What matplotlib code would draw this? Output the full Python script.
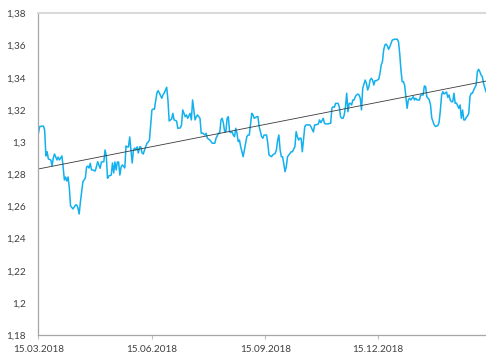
import numpy as np
import matplotlib
matplotlib.use("Agg")
import matplotlib.pyplot as plt
import matplotlib.dates as mdates
from matplotlib.ticker import FuncFormatter, MultipleLocator

# Daily exchange rate, days counted from 15.03.2018
days = [0, 1, 4, 5, 6, 7, 8, 10, 11, 12, 13, 15, 16, 17, 19, 20, 21, 22, 23, 24,
        25, 26, 28, 29, 30, 31, 32, 33, 34, 36, 37, 38, 39, 40, 41, 42, 43, 44, 46, 47,
        48, 50, 51, 53, 54, 55, 56, 57, 59, 60, 61, 62, 63, 64, 65, 66, 67, 68, 70, 71,
        72, 73, 74, 75, 76, 77, 78, 79, 80, 81, 82, 83, 84, 85, 86, 88, 89, 90, 92, 93,
        94, 96, 97, 98, 100, 101, 102, 104, 105,
        106, 108, 109, 110, 112, 113, 115, 116, 117, 119, 120, 121, 123, 124, 125, 127,
        128, 129, 131, 132, 133, 135, 136, 137, 139, 140, 141, 143, 144, 146, 147, 148,
        149, 150, 151, 152, 153, 154, 155, 156, 157, 158, 159, 160, 161, 162, 163, 164,
        165, 166, 167, 169, 170, 171, 173, 174, 175, 177, 178, 179, 181, 182, 183, 185,
        186, 187, 189, 190, 192, 193, 194, 195, 196, 197, 198, 200, 201, 202, 204, 205,
        206, 208, 209, 210, 211, 212, 213, 214, 216, 217, 220, 221, 223, 224, 225, 227,
        228,
        229, 231, 232, 233, 235, 236, 237, 238, 239, 240, 241, 243, 244, 245, 246, 247,
        248, 249, 250, 251, 252, 253, 254, 255, 256, 257, 258, 259, 260, 261, 262, 263,
        265, 266, 267, 268, 269, 270, 271, 272, 273, 274, 276, 277, 278, 279, 280, 281,
        282, 283, 284, 285, 286, 287, 289, 291, 292, 293, 294, 295, 296, 297, 298, 299,
        300, 301, 302, 304, 305, 306, 307, 308, 309, 310, 312, 313, 314, 315, 316, 317,
        318, 319, 321, 322, 324, 325, 326, 327, 328, 329, 331, 332, 333, 334, 335, 336,
        337, 338, 339, 341, 342, 343, 344, 345, 346, 347, 348, 349, 350, 351, 352, 353,
        355, 356, 357, 358, 359, 360, 361, 363]

rate = [1.3057, 1.3097, 1.3100, 1.3075, 1.2914, 1.2940, 1.2895, 1.2889, 1.2851, 1.2901,
        1.2926, 1.2889, 1.2907, 1.2889, 1.2914, 1.2845, 1.2764, 1.2783, 1.2758, 1.2783,
        1.2715, 1.2603, 1.2584, 1.2596, 1.2609, 1.2609, 1.2590, 1.2553, 1.2628, 1.2752,
        1.2764, 1.2777, 1.2845, 1.2851, 1.2839, 1.2868, 1.2827, 1.2827, 1.2820, 1.2847,
        1.2878, 1.2837, 1.2876, 1.2878, 1.2951, 1.2914, 1.2775, 1.2789, 1.2795, 1.2870,
        1.2808, 1.2876, 1.2827, 1.2876, 1.2876, 1.2795, 1.2845, 1.2858, 1.2839, 1.2976,
        1.2970, 1.2970, 1.3032, 1.2951, 1.2870, 1.2951, 1.2963, 1.2951, 1.2970, 1.2932,
        1.2970, 1.2970, 1.2932, 1.2926, 1.2951, 1.2993, 1.3001, 1.3013, 1.3200, 1.3206,
        1.3204, 1.3304, 1.3320, 1.3306, 1.3273, 1.3293, 1.3306, 1.3341, 1.3262,
        1.3131, 1.3144, 1.3179, 1.3138, 1.3131, 1.3086, 1.3088, 1.3106, 1.3200, 1.3158,
        1.3169, 1.3148, 1.3179, 1.3138, 1.3262, 1.3138, 1.3158, 1.3169, 1.3148, 1.3055,
        1.3057, 1.3044, 1.3055, 1.3024, 1.3013, 1.3003, 1.2993, 1.2993, 1.3024, 1.3055,
        1.3055, 1.3138, 1.3148, 1.3117, 1.3065, 1.3065, 1.3148, 1.3158, 1.3065, 1.3059,
        1.3065, 1.3044, 1.3034, 1.3086, 1.3055, 1.3003, 1.3013, 1.2972, 1.2940, 1.2909,
        1.2951, 1.3034, 1.3044, 1.3044, 1.3179, 1.3169, 1.3148, 1.3158, 1.3158, 1.3096,
        1.3034, 1.3024, 1.3044, 1.3044, 1.2993, 1.2920, 1.2909, 1.2920, 1.2930, 1.2951,
        1.3013, 1.3044, 1.2951, 1.2909, 1.2909, 1.2816, 1.2847, 1.2909, 1.2930, 1.2940,
        1.2940, 1.2972, 1.3065, 1.3034, 1.3013, 1.3024, 1.3024, 1.2940, 1.3096, 1.3107,
        1.3107, 1.3096, 1.3063, 1.3107, 1.3107, 1.3113, 1.3138,
        1.3121, 1.3148, 1.3117, 1.3113, 1.3113, 1.3117, 1.3117, 1.3210, 1.3220, 1.3217,
        1.3241, 1.3241, 1.3220, 1.3158, 1.3148, 1.3148, 1.3169, 1.3220, 1.3304, 1.3189,
        1.3241, 1.3241, 1.3231, 1.3262, 1.3262, 1.3283, 1.3293, 1.3299, 1.3293, 1.3273,
        1.3200, 1.3335, 1.3386, 1.3366, 1.3324, 1.3345, 1.3386, 1.3397, 1.3386, 1.3355,
        1.3382, 1.3382, 1.3391, 1.3428, 1.3480, 1.3500, 1.3573, 1.3604, 1.3610, 1.3598,
        1.3577, 1.3594, 1.3615, 1.3635, 1.3640, 1.3640, 1.3625, 1.3552, 1.3449, 1.3376,
        1.3376, 1.3355, 1.3283, 1.3210, 1.3262, 1.3273, 1.3262, 1.3283, 1.3262, 1.3273,
        1.3262, 1.3262, 1.3262, 1.3293, 1.3293, 1.3349, 1.3346, 1.3281, 1.3273, 1.3262,
        1.3231, 1.3150, 1.3107, 1.3097, 1.3103, 1.3125, 1.3200, 1.3293, 1.3314, 1.3299,
        1.3312, 1.3278, 1.3293, 1.3262, 1.3251, 1.3251, 1.3304, 1.3241, 1.3243, 1.3210,
        1.3231, 1.3148, 1.3200, 1.3138, 1.3138, 1.3154, 1.3162, 1.3179, 1.3283, 1.3304,
        1.3304, 1.3324, 1.3355, 1.3438, 1.3453, 1.3438, 1.3417, 1.3407, 1.3366, 1.3314]

tick_dates = ["2018-03-15", "2018-06-15", "2018-09-15", "2018-12-15"]
y_min, y_max, y_step = 1.18, 1.38, 0.02

start = np.datetime64("2018-03-15")
dates = start + np.array(days).astype("timedelta64[D]")
x_end = start + np.timedelta64(363, "D")

fig = plt.figure(figsize=(4.86, 3.58), dpi=100)
ax = fig.add_axes([0.0792, 0.0642, 0.9208, 0.8981])

ax.plot(dates, rate, color="#12B0EE", lw=1.1, solid_joinstyle="round")

# linear trend fitted to the series
coef = np.polyfit(days, rate, 1)
trend_days = np.array([0, 363])
ax.plot(start + trend_days.astype("timedelta64[D]"), np.polyval(coef, trend_days),
        color="#3a3a3a", lw=0.6)

ax.set_xlim(start, x_end)
ax.set_ylim(y_min, y_max)
ax.yaxis.set_major_locator(MultipleLocator(y_step))


def fmt_y(v, pos):
    s = f"{v:.2f}".rstrip("0").rstrip(".")
    return s.replace(".", ",")


ax.yaxis.set_major_formatter(FuncFormatter(fmt_y))
ax.set_xticks([np.datetime64(d) for d in tick_dates])
ax.xaxis.set_major_formatter(mdates.DateFormatter("%d.%m.%Y"))

for lab in ax.get_xticklabels() + ax.get_yticklabels():
    lab.set_fontfamily("Lato")
    lab.set_fontsize(7.2)
    lab.set_color("#404040")

ax.tick_params(axis="y", length=0, pad=9)
ax.tick_params(axis="x", length=3, width=0.8, color="#BFBFBF", pad=4)

for side in ["left", "bottom"]:
    ax.spines[side].set_color("#A6A6A6")
    ax.spines[side].set_linewidth(0.9)
ax.spines["top"].set_color("#D9D9D9")
ax.spines["top"].set_linewidth(1.5)
ax.spines["right"].set_visible(False)

fig.savefig("out.png", dpi=100)
